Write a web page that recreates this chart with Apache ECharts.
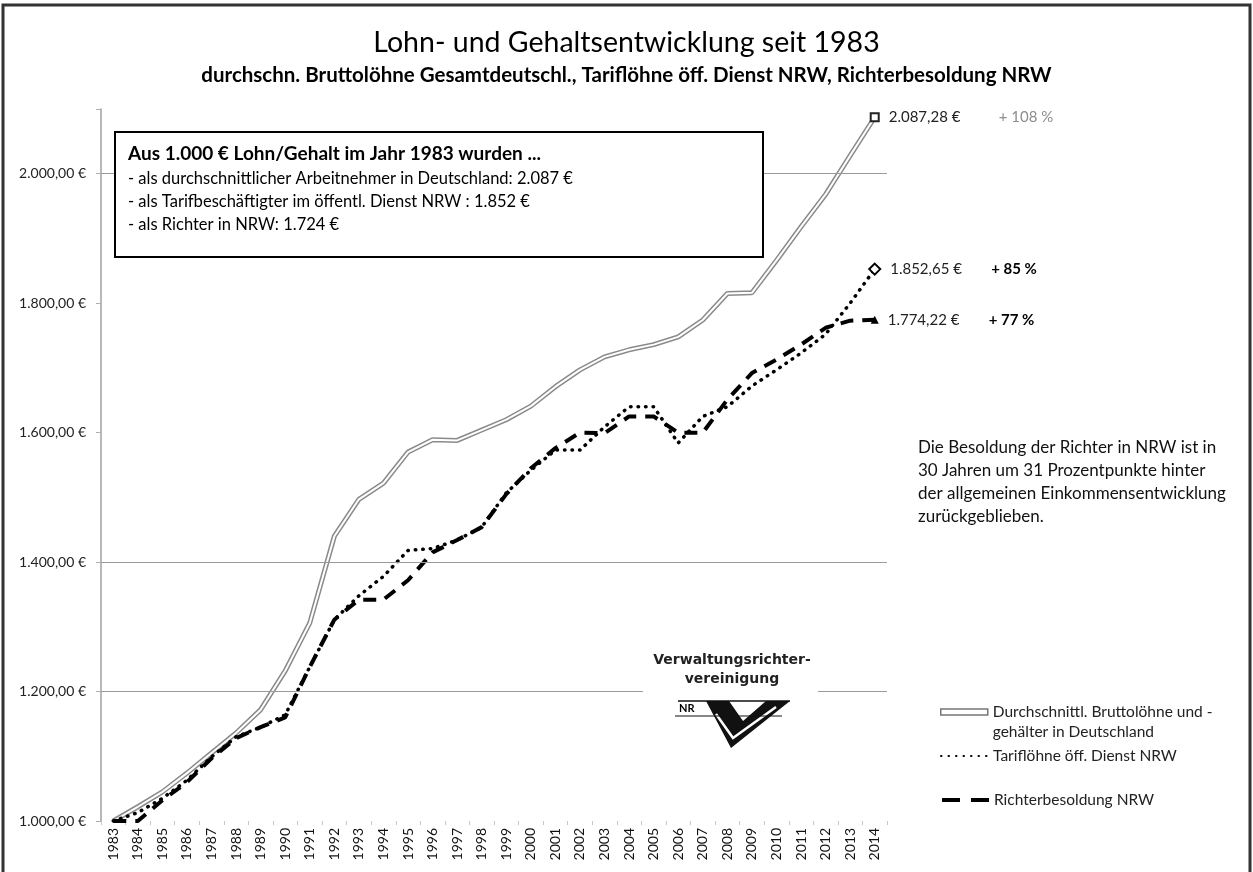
<!DOCTYPE html>
<html>
<head>
<meta charset="utf-8">
<script src="https://cdn.jsdelivr.net/npm/echarts@6/dist/echarts.min.js"></script>
<style>
  html, body { margin: 0; padding: 0; background: #fff; }
  #main { width: 1253px; height: 872px; }
</style>
</head>
<body>
<div id="main"></div>
<script>
// Jahre
var years = ['1983','1984','1985','1986','1987','1988','1989','1990','1991','1992','1993','1994','1995','1996','1997','1998',
  '1999','2000','2001','2002','2003','2004','2005','2006','2007','2008','2009','2010','2011','2012','2013','2014'];
// durchschn. Bruttoloehne Deutschland (1983 = 1.000 €)
var brutto = [1000, 1022, 1045, 1074, 1105, 1136, 1172, 1232, 1306, 1440, 1497, 1522, 1570, 1589, 1588, 1604,
  1620, 1641, 1671, 1697, 1717, 1728, 1736, 1748, 1774, 1815, 1816, 1866, 1918, 1968, 2028, 2087.28];
// Tarifloehne oeff. Dienst NRW
var tarif = [1000, 1013, 1035, 1063, 1099, 1130, 1145, 1164, 1238, 1311, 1348, 1378, 1418, 1421, 1434, 1454,
  1507, 1542, 1573, 1573, 1609, 1640, 1640, 1584, 1625, 1640, 1672, 1697, 1723, 1752, 1800, 1852.65];
// Richterbesoldung NRW
var richter = [1000, 1000, 1032, 1060, 1097, 1128, 1145, 1160, 1238, 1311, 1342, 1342, 1372, 1415, 1434, 1454,
  1505, 1545, 1576, 1600, 1599, 1625, 1625, 1600, 1600, 1651, 1692, 1713, 1736, 1762, 1773, 1774.22];
var gridValues = [1200, 1400, 2000];

var nameBrutto = 'Durchschnittl. Bruttolöhne und - gehälter in Deutschland';
var nameTarif = 'Tariflöhne öff. Dienst NRW';
var nameRichter = 'Richterbesoldung NRW';
var FONT = 'Lato';

function fmtEuro(v) {
  var s = v.toFixed(2).split('.');
  return s[0].replace(/\B(?=(\d{3})+(?!\d))/g, '.') + ',' + s[1] + ' €';
}

// letzter Punkt bekommt Symbol + Beschriftung
function withEnd(arr, symbol, size, itemStyle, pctStyle, vWidth) {
  var last = arr.length - 1;
  return arr.map(function (v, i) {
    if (i !== last) return v;
    var pct = Math.floor((v / arr[0] - 1) * 100);
    return {
      value: v,
      symbol: symbol,
      symbolSize: size,
      itemStyle: itemStyle,
      label: {
        show: true,
        position: 'right',
        distance: 9,
        formatter: '{v|' + fmtEuro(v) + '}{p|+ ' + pct + ' %}',
        rich: {
          v: { width: vWidth, fontSize: 15, color: '#222', fontFamily: FONT },
          p: pctStyle
        }
      }
    };
  });
}

var chart = echarts.init(document.getElementById('main'));
chart.setOption({
  animation: false,
  backgroundColor: '#fff',
  textStyle: { fontFamily: FONT },
  title: {
    text: 'Lohn- und Gehaltsentwicklung seit 1983',
    subtext: 'durchschn. Bruttolöhne Gesamtdeutschl., Tariflöhne öff. Dienst NRW, Richterbesoldung NRW',
    left: 'center',
    top: 23,
    itemGap: 8,
    textStyle: { fontFamily: FONT, fontSize: 28.5, fontWeight: 'normal', color: '#000' },
    subtextStyle: { fontFamily: FONT, fontSize: 20.5, fontWeight: 'bold', color: '#000' }
  },
  grid: { left: 101, right: 366, top: 109, bottom: 51 },
  legend: [
    {
      data: [{ name: nameBrutto, icon: 'rect', itemStyle: { color: '#fff', borderColor: '#777', borderWidth: 1.5 } }],
      orient: 'vertical', left: 940, top: 682, padding: 0, itemWidth: 47, itemHeight: 6,
      formatter: function () { return '\nDurchschnittl. Bruttolöhne und -\ngehälter in Deutschland'; },
      textStyle: { fontSize: 15.5, color: '#222', lineHeight: 20 }
    },
    {
      data: [nameTarif], orient: 'vertical', left: 940, top: 748, padding: 0, itemWidth: 47, itemHeight: 6,
      itemStyle: { color: 'transparent', borderWidth: 0 },
      textStyle: { fontSize: 15.5, color: '#222' }
    },
    {
      data: [nameRichter], orient: 'vertical', left: 940, top: 792, padding: 0, itemWidth: 47, itemHeight: 6,
      itemStyle: { color: 'transparent', borderWidth: 0 },
      lineStyle: { type: [18, 11], width: 4 },
      textStyle: { fontSize: 15.5, color: '#222' }
    }
  ],
  xAxis: {
    type: 'category',
    data: years,
    boundaryGap: true,
    axisLine: { show: false },
    axisTick: { show: true, length: 4, lineStyle: { color: '#c8c8c8' } },
    axisLabel: { rotate: 90, interval: 0, fontSize: 14, color: '#111', margin: 7 }
  },
  yAxis: {
    type: 'value',
    min: 1000,
    max: 2100,
    interval: 200,
    axisLine: { show: true, lineStyle: { color: '#a0a0a0', width: 1.5 } },
    axisTick: { show: true, length: 5, lineStyle: { color: '#b0b0b0' } },
    splitLine: { show: false },
    axisLabel: {
      fontSize: 14, color: '#222', margin: 15,
      formatter: function (v) { return v > 2000 ? '' : fmtEuro(v); }
    }
  },
  series: [
    {
      name: nameBrutto,
      type: 'line',
      data: brutto,
      symbol: 'none',
      z: 2,
      lineStyle: { color: '#8a8a8a', width: 5 },
      itemStyle: { color: '#8a8a8a' },
      markLine: {
        silent: true,
        symbol: 'none',
        label: { show: false },
        lineStyle: { color: '#9a9a9a', width: 1.2, type: 'solid' },
        data: gridValues.map(function (v) { return { yAxis: v }; })
      }
    },
    {
      name: 'inner',
      type: 'line',
      data: withEnd(brutto, 'rect', 8, { color: '#fff', borderColor: '#222', borderWidth: 2 },
        { fontSize: 15, color: '#8c8c8c', fontFamily: FONT }, 110),
      symbol: 'none',
      z: 3,
      lineStyle: { color: '#fff', width: 2 }
    },
    {
      name: nameRichter,
      type: 'line',
      data: withEnd(richter, 'triangle', 8, { color: '#000' },
        { fontSize: 15, color: '#000', fontWeight: 'bold', fontFamily: FONT }, 101),
      symbol: 'none',
      z: 4,
      lineStyle: { color: '#000', width: 4, type: [13, 9] },
      itemStyle: { color: '#000' }
    },
    {
      name: nameTarif,
      type: 'line',
      data: withEnd(tarif, 'diamond', 11, { color: '#fff', borderColor: '#000', borderWidth: 2 },
        { fontSize: 15, color: '#000', fontWeight: 'bold', fontFamily: FONT }, 101),
      symbol: 'none',
      z: 4,
      lineStyle: { color: '#000', width: 3.5, type: [0.5, 7], cap: 'round' },
      itemStyle: { color: '#000' }
    }
  ],
  graphic: [
    // Rahmen
    { type: 'rect', z: 100, silent: true, shape: { x: 3, y: 5, width: 1247, height: 880 },
      style: { fill: 'none', stroke: '#333', lineWidth: 3 } },
    // Textkasten
    { type: 'rect', z: 100, shape: { x: 115, y: 132, width: 648, height: 125 },
      style: { fill: '#fff', stroke: '#000', lineWidth: 2 } },
    { type: 'text', z: 101, x: 128, y: 154,
      style: { text: 'Aus 1.000 € Lohn/Gehalt im Jahr 1983 wurden ...', font: 'bold 19px Lato', fill: '#000', verticalAlign: 'middle' } },
    { type: 'text', z: 101, x: 128, y: 167,
      style: { text: '- als durchschnittlicher Arbeitnehmer in Deutschland: 2.087 €\n- als Tarifbeschäftigter im öffentl. Dienst NRW : 1.852 €\n- als Richter in NRW: 1.724 €',
        font: '16.5px Lato', fill: '#000', lineHeight: 23 } },
    // Anmerkung rechts
    { type: 'text', z: 101, x: 918, y: 436,
      style: { text: 'Die Besoldung der Richter in NRW ist in\n30 Jahren um 31 Prozentpunkte hinter\nder allgemeinen Einkommensentwicklung\nzurückgeblieben.',
        font: '17px Lato', fill: '#111', lineHeight: 23 } },
    // Logo
    { type: 'rect', z: 100, shape: { x: 643, y: 648, width: 175, height: 104 }, style: { fill: '#fff' } },
    { type: 'text', z: 101, x: 732, y: 651,
      style: { text: 'Verwaltungsrichter-\nvereinigung', font: 'bold 14px "DejaVu Sans"', fill: '#222', align: 'center', lineHeight: 19 } },
    { type: 'polygon', z: 101, shape: { points: [[706, 701], [729, 701], [743, 721], [766, 701], [790, 701], [731, 748]] },
      style: { fill: '#111' } },
    { type: 'polyline', z: 102, shape: { points: [[716, 714], [733, 738], [776, 707]] },
      style: { stroke: '#fff', lineWidth: 2.5, fill: 'none' } },
    { type: 'line', z: 102, shape: { x1: 678, y1: 701, x2: 790, y2: 701 }, style: { stroke: '#111', lineWidth: 1.5 } },
    { type: 'line', z: 102, shape: { x1: 675, y1: 716, x2: 782, y2: 716 }, style: { stroke: '#111', lineWidth: 1 } },
    { type: 'text', z: 103, x: 679, y: 703, style: { text: 'NR', font: 'bold 11px Lato', fill: '#000' } }
  ]
});
</script>
</body>
</html>
